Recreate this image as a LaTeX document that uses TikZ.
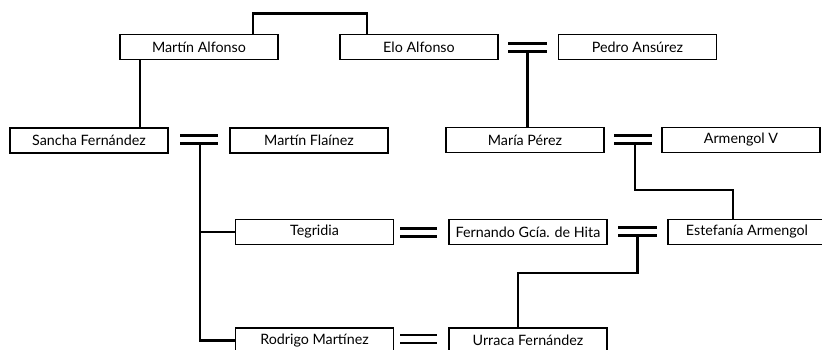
\documentclass[tikz,border=0pt]{standalone}
\usepackage{fontspec}
\setmainfont{Lato}
\usetikzlibrary{calc}

\begin{document}
\begin{tikzpicture}[x=1pt, y=-1pt,
    person/.style={draw, line width=1.9pt, minimum width=158pt, minimum height=25pt,
      inner sep=0pt, font=\fontsize{14.3}{16}\selectfont},
    link/.style={line width=2.4pt},
    wed/.style={line width=2.4pt}]
  \useasboundingbox (0,0) rectangle (822,349);

  % people
  \node[person] (martin) at (199,47) {Martín Alfonso};
  \node[person] (elo) at (419,47) {Elo Alfonso};
  \node[person] (pedro) at (637.5,47) {Pedro Ansúrez};
  \node[person] (sancha) at (89,140.5) {Sancha Fernández};
  \node[person] (flainez) at (309,140.5) {Martín Flaínez};
  \node[person] (maria) at (525,140) {María Pérez};
  \node[person] (armengol) at (741,140) {Armengol V};
  \node[person] (tegridia) at (314.5,232) {Tegridia};
  \node[person] (fernando) at (528,232) {Fernando Gcía. de Hita};
  \node[person] (estefania) at (747,232) {Estefanía Armengol};
  \node[person] (rodrigo) at (314.5,340.5) {Rodrigo Martínez};
  \node[person] (urraca) at (528,340.5) {Urraca Fernández};

  % marriages
  \coordinate (wedA) at (527.5,47.5);
  \coordinate (wedB) at (199,139.5);
  \coordinate (wedC) at (633,139.5);
  \coordinate (wedD) at (418.5,232.5);
  \coordinate (wedE) at (637.5,231.5);
  \coordinate (wedF) at (418.5,339);
  \foreach \w/\h in {wedA/19.5,wedB/19,wedC/19,wedD/18.5,wedE/19.5,wedF/18.5} {
    \draw[wed] ($(\w)+(-\h,-4)$) -- ($(\w)+(\h,-4)$);
    \draw[wed] ($(\w)+(-\h,4)$) -- ($(\w)+(\h,4)$);
  }

  % siblings and descent
  \draw[link] ([xshift=54]martin.north) -- ++(0,-20) -| ([xshift=-52]elo.north);
  \draw[link] ([xshift=-59]martin.south) -- ([xshift=-59]martin.south |- sancha.north);
  \draw[link] ($(wedA)+(0,4)$) -- (wedA |- maria.north);
  \draw[link] ($(wedB)+(1,4)$) -- ($(wedB |- rodrigo.west)+(1,0)$) -- (rodrigo.west);
  \draw[link] ($(wedB |- tegridia.west)+(1,0)$) -- (tegridia.west);
  \draw[link] ($(wedC)+(2,4)$) |- ++(98,46.5) -- ([xshift=-14]estefania.north);
  \draw[link] ($(wedE)+(0,4)$) -- ++(0,37.5) -| ([xshift=-10]urraca.north);
\end{tikzpicture}
\end{document}
